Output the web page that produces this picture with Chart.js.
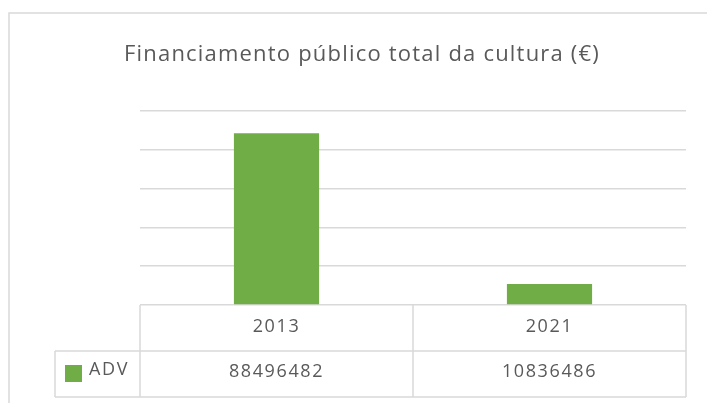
<!DOCTYPE html>
<html>
<head>
<meta charset="utf-8">
<script src="https://cdn.jsdelivr.net/npm/chart.js@4/dist/chart.umd.min.js"></script>
<style>
  html, body { margin: 0; padding: 0; background: #fff; }
  #wrap { width: 707px; height: 403px; position: relative; }
</style>
</head>
<body>
<div id="wrap"><canvas id="chart" width="707" height="403"></canvas></div>
<script>
// chart data
const years = ['2013', '2021'];
const seriesName = 'ADV';
const advValues = [88496482, 10836486];
const chartTitle = 'Financiamento público total da cultura (€)';

const textColor = '#595959';
const lineColor = '#d9d9d9';
const barColor = '#70ad47';

// frame, title and data table under the plot
const tablePlugin = {
  id: 'dataTable',
  afterDraw(chart) {
    const ctx = chart.ctx;
    const area = chart.chartArea;
    const x = chart.scales.x;
    ctx.save();

    // outer frame
    ctx.strokeStyle = lineColor;
    ctx.lineWidth = 1.5;
    ctx.beginPath();
    ctx.moveTo(9, 403);
    ctx.lineTo(9, 13);
    ctx.lineTo(707, 13);
    ctx.stroke();

    // title
    ctx.fillStyle = textColor;
    ctx.font = '22px "Open Sans"';
    ctx.letterSpacing = '1.2px';
    ctx.textAlign = 'center';
    ctx.textBaseline = 'alphabetic';
    ctx.fillText(chartTitle, 362, 61);

    // table grid
    const half = (x.getPixelForValue(1) - x.getPixelForValue(0)) / 2;
    const cols = [area.left];
    years.forEach((y, i) => cols.push(x.getPixelForValue(i) + half));
    const rowTop = area.bottom, rowMid = rowTop + 46, rowBot = rowMid + 46;
    const labelLeft = 55;

    ctx.lineWidth = 1.5;
    ctx.strokeStyle = lineColor;
    ctx.beginPath();
    ctx.moveTo(labelLeft, rowMid); ctx.lineTo(area.right, rowMid);
    ctx.moveTo(labelLeft, rowBot); ctx.lineTo(area.right, rowBot);
    cols.forEach(c => { ctx.moveTo(c, rowTop); ctx.lineTo(c, rowBot); });
    ctx.moveTo(labelLeft, rowMid); ctx.lineTo(labelLeft, rowBot);
    ctx.stroke();

    // cell text
    ctx.font = '18px "Open Sans"';
    ctx.letterSpacing = '1.6px';
    ctx.fillStyle = textColor;
    ctx.textAlign = 'center';
    years.forEach((y, i) => {
      const cx = x.getPixelForValue(i);
      ctx.fillText(y, cx, rowTop + 27);
      ctx.fillText(String(advValues[i]), cx, rowMid + 26);
    });

    // legend key + series name
    ctx.fillStyle = barColor;
    ctx.fillRect(65, rowMid + 14, 17, 17);
    ctx.fillStyle = textColor;
    ctx.textAlign = 'left';
    ctx.fillText(seriesName, 89, rowMid + 24);
    ctx.restore();
  }
};

new Chart(document.getElementById('chart'), {
  type: 'bar',
  data: {
    labels: years,
    datasets: [{
      label: seriesName,
      data: advValues,
      backgroundColor: barColor,
      barPercentage: 0.312,
      categoryPercentage: 1
    }]
  },
  options: {
    responsive: false,
    animation: false,
    layout: { padding: { left: 140, right: 21, top: 111, bottom: 98 } },
    plugins: {
      legend: { display: false },
      title: { display: false },
      tooltip: { enabled: false }
    },
    scales: {
      x: { display: false },
      y: {
        min: 0,
        max: 100000000,
        ticks: { display: false, stepSize: 20000000 },
        grid: { color: lineColor, lineWidth: 1.5, drawTicks: false },
        border: { display: false }
      }
    }
  },
  plugins: [tablePlugin]
});
</script>
</body>
</html>
